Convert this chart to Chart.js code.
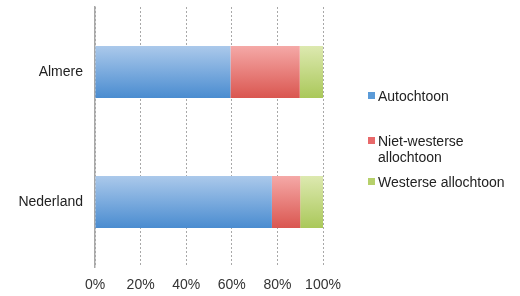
<!DOCTYPE html>
<html>
<head>
<meta charset="utf-8">
<script src="https://cdn.jsdelivr.net/npm/chart.js@4/dist/chart.umd.min.js"></script>
<style>
  html, body { margin: 0; padding: 0; background: #fff; }
  #wrap { position: relative; width: 520px; height: 296px; }
  #legend { position: absolute; left: 368px; top: 0; font-family: "Liberation Sans", Arial, sans-serif; font-size: 14px; color: #222; }
  .item { position: absolute; left: 0; white-space: nowrap; line-height: 16px; }
  .sw { position: absolute; left: 0; top: 4px; width: 7px; height: 7px; }
  .txt { position: absolute; left: 10px; top: 0; }
</style>
</head>
<body>
<div id="wrap">
  <canvas id="chart" width="520" height="296"></canvas>
  <div id="legend"></div>
</div>
<script>
// data
const regions = ["Almere", "Nederland"];
const autochtoon = [59.4, 77.6];
const nietWesters = [30.4, 12.4];
const westers = [10.2, 10.0];
const seriesNames = ["Autochtoon", ["Niet-westerse", "allochtoon"], "Westerse allochtoon"];
const xTicks = [0, 20, 40, 60, 80, 100];

const shades = [
  { top: "#abc9eb", bottom: "#4a8cd0", key: "#5b9bd8" },
  { top: "#f5a9a7", bottom: "#da5650", key: "#e8696a" },
  { top: "#dde9b0", bottom: "#aac85a", key: "#b6d06b" }
];

const barPct = 0.4;

function barGradient(ctx, idx){
  const chart = ctx.chart;
  const area = chart.chartArea;
  if (!area) return shades[idx].key;
  const y = chart.scales.y;
  const g = chart.ctx.createLinearGradient(0, area.top, 0, area.bottom);
  const h = area.bottom - area.top;
  const half = (h / regions.length) * barPct / 2;
  regions.forEach((r, i) => {
    const c = y.getPixelForValue(i);
    const t = Math.max(0, Math.min(1, (c - half - area.top) / h));
    const b = Math.max(0, Math.min(1, (c + half - area.top) / h));
    g.addColorStop(t, shades[idx].top);
    g.addColorStop(b, shades[idx].bottom);
  });
  return g;
}

const seriesData = [autochtoon, nietWesters, westers];

new Chart(document.getElementById("chart"), {
  type: "bar",
  data: {
    labels: regions,
    datasets: seriesData.map((d, i) => ({
      label: Array.isArray(seriesNames[i]) ? seriesNames[i].join(" ") : seriesNames[i],
      data: d,
      backgroundColor: ctx => barGradient(ctx, i),
      borderWidth: 0,
      barPercentage: barPct,
      categoryPercentage: 1
    }))
  },
  options: {
    indexAxis: "y",
    responsive: false,
    animation: false,
    layout: { padding: { top: 7, right: 197, left: 0, bottom: 0 } },
    plugins: { legend: { display: false }, tooltip: { enabled: false } },
    scales: {
      x: {
        stacked: true,
        min: 0, max: 100,
        afterBuildTicks: s => { s.ticks = xTicks.map(v => ({ value: v })); },
        afterFit: s => { s.height = 29; s.paddingLeft = 0; s.paddingRight = 0; },
        ticks: {
          callback: v => v + "%",
          color: "#333",
          padding: 10,
          maxRotation: 0,
          font: { family: "Liberation Sans", size: 14 }
        },
        grid: { color: "#a8a8a8", lineWidth: 1, drawTicks: false, tickLength: 0 },
        border: { display: false, dash: [2, 2] }
      },
      y: {
        stacked: true,
        afterFit: s => { s.width = 95; s.paddingTop = 0; s.paddingBottom = 0; },
        ticks: {
          color: "#222",
          padding: 12,
          font: { family: "Liberation Sans", size: 14 }
        },
        grid: { display: false, drawTicks: false },
        border: { display: true, color: "#a8a8a8", width: 1.5 }
      }
    }
  }
});

// legend (html text)
const legendTops = [88, 133, 174];
const legend = document.getElementById("legend");
seriesNames.forEach((n, i) => {
  const item = document.createElement("div");
  item.className = "item";
  item.style.top = legendTops[i] + "px";
  const sw = document.createElement("div");
  sw.className = "sw";
  sw.style.background = shades[i].key;
  const tx = document.createElement("div");
  tx.className = "txt";
  tx.innerHTML = Array.isArray(n) ? n.join("<br>") : n;
  item.appendChild(sw);
  item.appendChild(tx);
  legend.appendChild(item);
});
</script>
</body>
</html>
